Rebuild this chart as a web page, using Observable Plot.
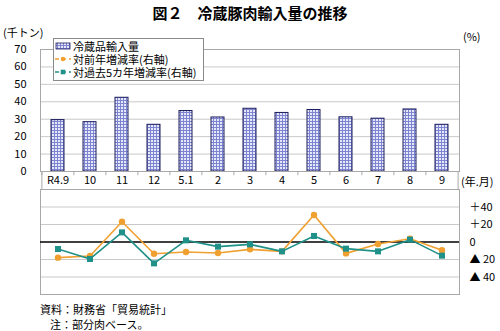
<!DOCTYPE html>
<html><head><meta charset="utf-8">
<script src="https://cdn.jsdelivr.net/npm/d3@7"></script>
<script src="https://cdn.jsdelivr.net/npm/@observablehq/plot@0.6"></script>
<style>
body{margin:0;background:#fff;}
#c{position:relative;width:500px;height:331px;font-family:"Noto Sans CJK JP","Noto Sans",sans-serif;color:#000;overflow:hidden}
.a{position:absolute;white-space:nowrap;font-size:11px;line-height:12px}
#topChart,#botChart{position:absolute;left:0;width:500px}
#topChart svg,#botChart svg{display:block}
</style></head><body>
<svg width="0" height="0" style="position:absolute">
 <defs>
  <pattern id="grid" width="3" height="3" patternUnits="userSpaceOnUse">
   <rect width="3" height="3" fill="#e6e8f9"/>
   <rect width="1" height="3" fill="#7d84d0"/>
   <rect width="3" height="1" fill="#7d84d0"/>
  </pattern>
 </defs>
</svg>
<div id="c">
 <div id="topChart" style="top:40px"></div>
 <div id="botChart" style="top:185px"></div>
 <div class="a" style="left:0;width:500px;top:4px;text-align:center;font-size:15px;line-height:18px;font-weight:bold">図２　冷蔵豚肉輸入量の推移</div>
 <div class="a" style="left:3px;top:26px">(千トン)</div>
 <div class="a" style="left:463px;top:30px">(%)</div>
 <div class="a" style="left:461px;top:175px">(年.月)</div>
 <div class="a" style="left:40px;top:303px">資料：財務省「貿易統計」</div>
 <div class="a" style="left:50px;top:318px">注：部分肉ベース。</div>
 <div id="leg" style="position:absolute;left:53px;top:38px;width:149px;height:41px;border:1px solid #8a8a8a;background:#fff;z-index:5">
  <svg width="20" height="42" style="position:absolute;left:0;top:0">
   <rect x="2" y="4" width="14" height="6" fill="url(#grid)" stroke="#1c1c5c" stroke-width="0.8"/>
   <line x1="1" x2="17" y1="20" y2="20" stroke="#f0a030" stroke-width="1.5" stroke-dasharray="4,3"/>
   <circle cx="9" cy="20" r="2.3" fill="#f0a030"/>
   <line x1="1" x2="17" y1="33" y2="33" stroke="#1f9188" stroke-width="1.5" stroke-dasharray="4,3"/>
   <rect x="6.7" y="30.7" width="4.6" height="4.6" fill="#1f9188"/>
  </svg>
  <div class="a" style="left:19px;top:1px">冷蔵品輸入量</div>
  <div class="a" style="left:19px;top:14px">対前年増減率(右軸)</div>
  <div class="a" style="left:19px;top:27px">対過去5カ年増減率(右軸)</div>
 </div>
</div>
<script>
const months = ["R4.9","10","11","12","5.1","2","3","4","5","6","7","8","9"];
const imports = [29.5,28.3,42.3,26.8,34.7,31.0,36.0,33.6,35.3,31.1,30.3,35.6,26.8];
const yoyRate = [-17.9,-16.0,23.2,-13.4,-11.4,-12.6,-8.4,-10.7,30.9,-13.0,-2.3,3.8,-9.5];
const fiveYearRate = [-8.0,-19.4,11.0,-24.4,1.9,-5.3,-2.7,-10.7,6.9,-7.6,-10.7,2.7,-15.6];
const leftTicks = [0,10,20,30,40,50,60,70];
const rightTicks = [-40,-20,0,20,40];

const W = 500, ML = 40, MR = 41;
const step = (W - ML - MR) / months.length;
const xOpts = {type:"band", domain: months, paddingInner: 0.6, paddingOuter: 0.3, axis: null};
const gridC = "#c9c9c9", axisC = "#a8a8a8";
const font = {fontSize:"11px", fontFamily:'"Noto Sans CJK JP","Noto Sans",sans-serif', background:"transparent", color:"#000"};

const barData = months.map((m,i)=>({m, v: imports[i]}));
const topPlot = Plot.plot({
  width: W, height: 150,
  marginLeft: ML, marginRight: MR, marginTop: 9, marginBottom: 19,
  style: font,
  x: xOpts,
  y: {domain:[0,70], axis:null},
  marks: [
    Plot.gridY(leftTicks.filter(d=>d>0), {stroke: gridC, strokeOpacity: 1}),
    Plot.barY(barData, {x:"m", y:"v", fill:"url(#grid)", stroke:"#1c1c5c", strokeWidth:1}),
    Plot.ruleY([0], {stroke: axisC}),
    Plot.frame({stroke: axisC}),
    Plot.ruleX(months, {x: d=>d, dx: -step/2, y1: 0, y2: -2.4, stroke: axisC}),
    Plot.ruleX(months.slice(-1), {x: d=>d, dx: step/2, y1: 0, y2: -10.6, stroke: axisC}),
    Plot.ruleX(months.slice(0,1), {x: d=>d, dx: -step/2, y1: 0, y2: -10.6, stroke: axisC}),
    Plot.axisY({ticks: leftTicks, tickSize: 0, tickPadding: 14, label: null}),
    Plot.axisX({tickSize: 0, tickPadding: 5, label: null})
  ]
});
document.getElementById("topChart").appendChild(topPlot);

const rows = months.map((m,i)=>({m, yoy: yoyRate[i], five: fiveYearRate[i]}));
const fmt = d => d > 0 ? "＋" + d : d < 0 ? "▲ " + (-d) : "0";
const botPlot = Plot.plot({
  width: W, height: 115,
  marginLeft: ML, marginRight: MR, marginTop: 4, marginBottom: 6,
  style: font,
  x: xOpts,
  y: {domain:[-60,60], axis:null},
  marks: [
    Plot.gridY([-40,-20,20,40], {stroke: gridC, strokeOpacity: 1}),
    Plot.frame({stroke: axisC}),
    Plot.ruleY([0], {stroke: "#000", strokeWidth: 1.6}),
    Plot.lineY(rows, {x:"m", y:"yoy", stroke:"#f0a030", strokeWidth:1.6}),
    Plot.dot(rows, {x:"m", y:"yoy", fill:"#f0a030", r:3.2}),
    Plot.lineY(rows, {x:"m", y:"five", stroke:"#1f9188", strokeWidth:1.6}),
    Plot.dot(rows, {x:"m", y:"five", fill:"#1f9188", symbol:"square", r:3.4}),
    Plot.axisY({anchor:"right", ticks: rightTicks, tickFormat: fmt, tickSize: 0, tickPadding: 10, label: null})
  ]
});
document.getElementById("botChart").appendChild(botPlot);
</script>
</body></html>
